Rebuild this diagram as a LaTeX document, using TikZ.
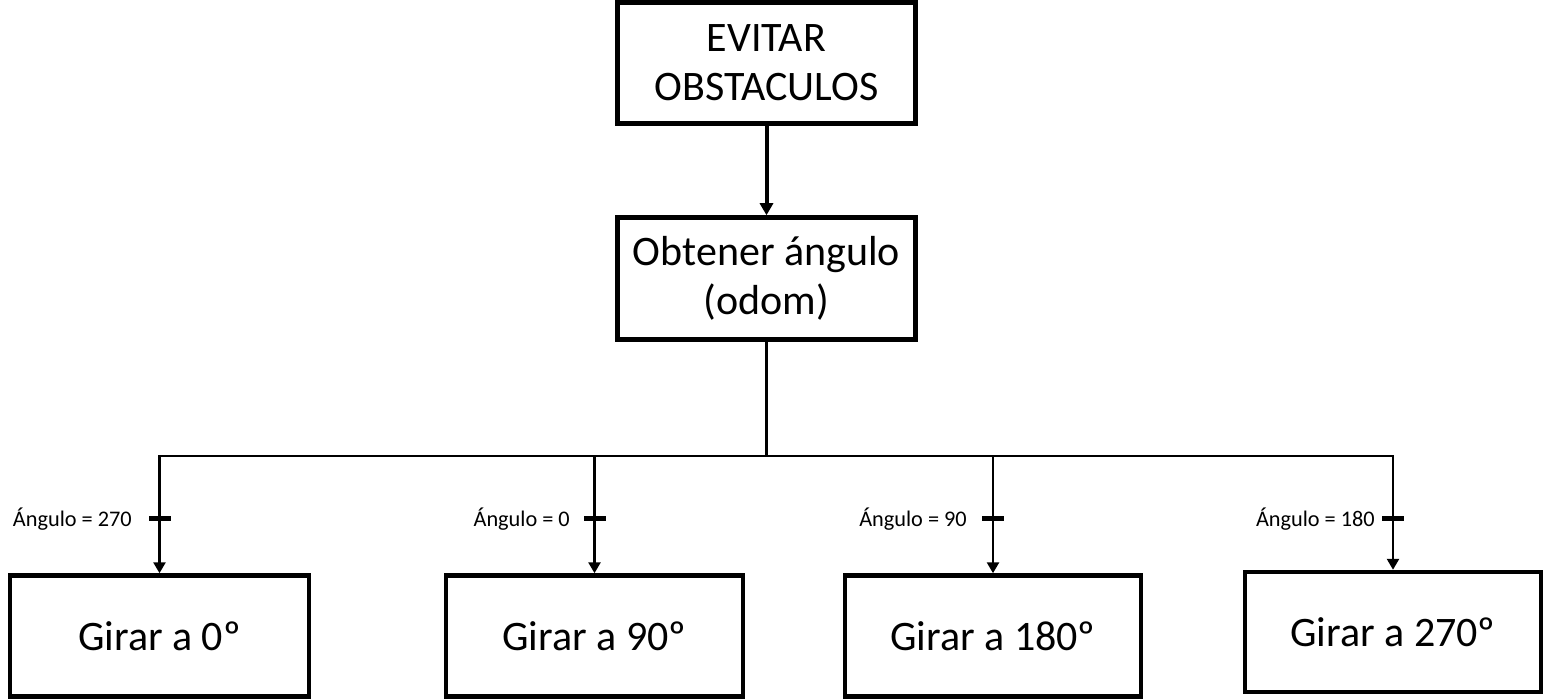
\documentclass[tikz,border=0pt]{standalone}
\usepackage{fontspec}
\setmainfont{Carlito}
\usetikzlibrary{arrows.meta}
\tikzset{
  box/.style={draw, line width=4.5pt, rectangle, minimum width=298pt, minimum height=121pt,
    inner sep=0pt, align=center, font=\fontsize{42}{49}\selectfont},
  mainarrow/.style={line width=4pt, -{Triangle[width=13pt,length=12pt]}},
  thinarrow/.style={line width=2.6pt, -{Triangle[width=12pt,length=11pt]}},
  thinline/.style={line width=2.6pt},
  tickmark/.style={fill=black, rectangle, minimum width=22pt, minimum height=5pt, inner sep=0pt},
  cond/.style={font=\fontsize{22.3}{26}\selectfont, inner sep=0pt, anchor=east}
}
\begin{document}
\begin{tikzpicture}[x=1pt,y=-1pt]
\useasboundingbox (0,0) rectangle (1545,700);
\fill[white] (0,0) rectangle (1545,700);
\node[box] (evitar) at (766.5,63) {EVITAR\\OBSTACULOS};
\node[box, minimum height=122pt] (obtener) at (766.5,278.5) {Obtener ángulo\\(odom)};
\node[box, minimum width=299pt] (g0) at (159.5,636) {Girar a 0º};
\node[box, minimum width=297pt] (g90) at (594.5,636) {Girar a 90º};
\node[box, minimum width=296pt] (g180) at (993,636) {Girar a 180º};
\node[box, minimum width=296pt, minimum height=120pt] (g270) at (1393,632) {Girar a 270º};
\draw[mainarrow] (evitar.south) -- (obtener.north);
\coordinate (bus) at (766.5,456);
\coordinate (j0) at (159.5,456);
\coordinate (j90) at (594.5,456);
\coordinate (j180) at (993,456);
\coordinate (j270) at (1393,456);
\draw[thinline] (obtener.south) -- (bus);
\draw[thinline, line cap=rect] (j0) -- (j270);
\draw[thinarrow] (j0) -- (g0.north) node[tickmark, pos=0.534] (t0) {};
\draw[thinarrow] (j90) -- (g90.north) node[tickmark, pos=0.534] (t90) {};
\draw[thinarrow] (j180) -- (g180.north) node[tickmark, pos=0.534] (t180) {};
\draw[thinarrow] (j270) -- (g270.north) node[tickmark, pos=0.547] (t270) {};
\node[cond] (c0) at (132,519.5) {Ángulo = 270};
\node[cond] (c90) at (570,519.5) {Ángulo = 0};
\node[cond] (c180) at (967,519.5) {Ángulo = 90};
\node[cond] (c270) at (1375,519.5) {Ángulo = 180};
\end{tikzpicture}
\end{document}
